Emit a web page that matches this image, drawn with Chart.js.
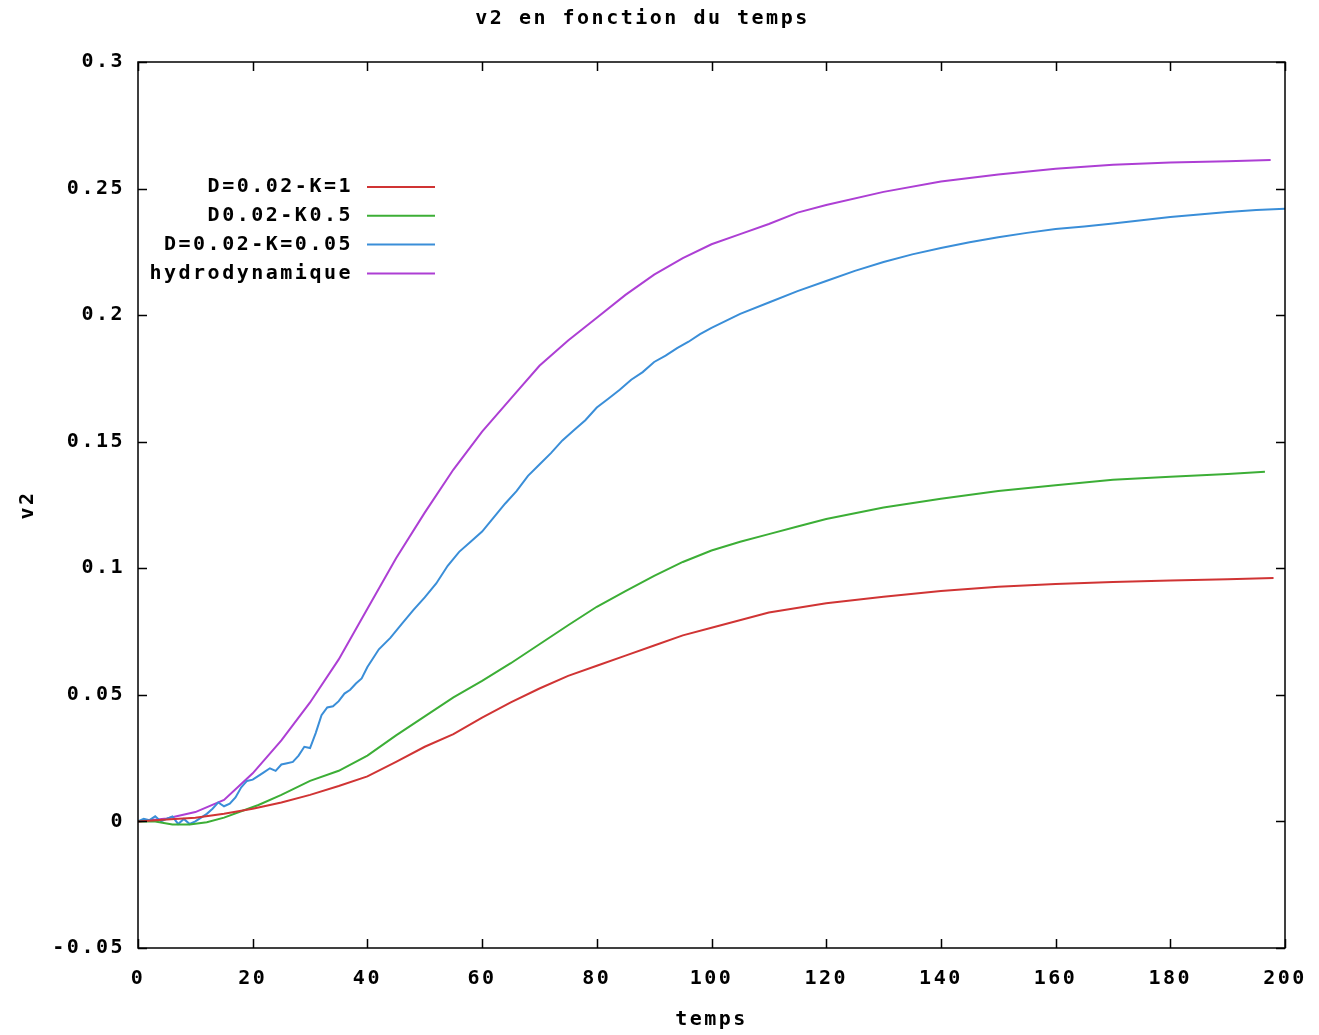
<!DOCTYPE html>
<html>
<head>
<meta charset="utf-8">
<script src="https://cdn.jsdelivr.net/npm/chart.js@4.4.1/dist/chart.umd.min.js"></script>
<style>
  html, body { margin: 0; padding: 0; background: #fff; }
  #wrap { width: 1319px; height: 1035px; }
</style>
</head>
<body>
<div id="wrap"><canvas id="graphe"></canvas></div>
<script>
// valeurs
var labels = ['D=0.02-K=1', 'D0.02-K0.5', 'D=0.02-K=0.05', 'hydrodynamique'];
var couleurs = ['#d03434', '#3cae36', '#3a8ed8', '#ad3fd4'];

var tK1 = [0,5,10,15,20,25,30,35,40,45,50,55,60,65,70,75,80,85,90,95,100,110,120,130,140,150,160,170,180,190,198];
var vK1 = [0,0.0008,0.0015,0.003,0.005,0.0075,0.0105,0.014,0.0178,0.0235,0.0295,0.0345,0.041,0.047,0.0525,0.0575,0.0615,0.0655,0.0695,0.0735,0.0765,0.0825,0.0862,0.0888,0.091,0.0927,0.0938,0.0946,0.0952,0.0957,0.0962];

var tK05 = [0,3,6,9,12,15,18,21,25,30,35,40,45,50,55,60,65,70,75,80,85,90,95,100,105,110,115,120,130,140,150,160,170,180,190,196.5];
var vK05 = [0,0,-0.0012,-0.0012,-0.0003,0.0015,0.004,0.0065,0.0105,0.016,0.020,0.026,0.034,0.0415,0.049,0.0555,0.0625,0.07,0.0775,0.0848,0.091,0.097,0.1025,0.107,0.1105,0.1135,0.1165,0.1195,0.124,0.1275,0.1305,0.1328,0.135,0.1362,0.1372,0.1381];

var tK005 = [0,1,2,3,4,5,6,7,8,9,10,11,12,13,14,15,16,17,18,19,20,21,22,23,24,25,26,27,28,29,30,31,32,33,34,35,36,37,38,39,40,42,44,46,48,50,52,54,56,58,60,62,64,66,68,70,72,74,76,78,80,82,84,86,88,90,92,94,96,98,100,105,110,115,120,125,130,135,140,145,150,155,160,165,170,175,180,185,190,195,200];
var vK005 = [0,0.001,0.0005,0.002,0,0.001,0.002,-0.001,0.001,-0.001,0,0.0015,0.003,0.005,0.0075,0.006,0.007,0.0095,0.0135,0.016,0.0165,0.018,0.0195,0.021,0.020,0.0225,0.023,0.0235,0.026,0.0295,0.029,0.035,0.042,0.045,0.0455,0.0475,0.0505,0.052,0.0545,0.0565,0.061,0.068,0.0725,0.078,0.0835,0.0885,0.094,0.101,0.1065,0.1105,0.1145,0.12,0.1255,0.1305,0.1365,0.141,0.1455,0.1505,0.1545,0.1585,0.1635,0.167,0.1705,0.1745,0.1775,0.1815,0.184,0.187,0.1895,0.1925,0.195,0.2005,0.205,0.2095,0.2135,0.2175,0.221,0.224,0.2265,0.2288,0.2308,0.2325,0.234,0.235,0.2362,0.2375,0.2388,0.2398,0.2407,0.2415,0.242];

var tHydro = [0,5,10,15,20,25,30,35,40,45,50,55,60,65,70,75,80,85,90,95,100,105,110,115,120,130,140,150,160,170,180,190,197.5];
var vHydro = [0,0.0012,0.0037,0.0085,0.019,0.032,0.047,0.064,0.084,0.104,0.122,0.139,0.154,0.167,0.180,0.190,0.199,0.208,0.216,0.2225,0.228,0.232,0.236,0.2405,0.2435,0.2487,0.2528,0.2556,0.2578,0.2594,0.2603,0.2608,0.2613];

var xTicks = [0,20,40,60,80,100,120,140,160,180,200];
var yTicks = [-0.05,0,0.05,0.1,0.15,0.2,0.25,0.3];

function points(t, v) {
    return t.map(function(x, i){ return {x: x, y: v[i]}; });
}

var series = [points(tK1, vK1), points(tK05, vK05), points(tK005, vK005), points(tHydro, vHydro)];

var FAMILLE = '"DejaVu Sans Mono", "Liberation Mono", monospace';
var POLICE = 'bold 20px ' + FAMILLE;
var ESPACE = '2.5px';
var fonte = { family: FAMILLE, size: 20, weight: 'bold' };

var cadreGnuplot = {
    id: 'cadreGnuplot',
    beforeLayout: function(chart){ chart.ctx.letterSpacing = ESPACE; },
    beforeDraw: function(chart){ chart.ctx.letterSpacing = ESPACE; },
    afterDraw: function(chart){
        var ctx = chart.ctx, a = chart.chartArea;
        var sx = chart.scales.x, sy = chart.scales.y;
        ctx.save();
        ctx.strokeStyle = '#000';
        ctx.lineWidth = 1.5;
        ctx.strokeRect(a.left, a.top, a.right - a.left, a.bottom - a.top);
        // ticks vers l'interieur, sur les quatre cotes
        ctx.beginPath();
        xTicks.forEach(function(v){
            var p = Math.round(sx.getPixelForValue(v)) + 0.5;
            ctx.moveTo(p, a.bottom); ctx.lineTo(p, a.bottom - 9);
            ctx.moveTo(p, a.top); ctx.lineTo(p, a.top + 9);
        });
        yTicks.forEach(function(v){
            var p = Math.round(sy.getPixelForValue(v)) + 0.5;
            ctx.moveTo(a.left, p); ctx.lineTo(a.left + 9, p);
            ctx.moveTo(a.right, p); ctx.lineTo(a.right - 9, p);
        });
        ctx.stroke();
        // legende facon gnuplot
        ctx.font = POLICE;
        ctx.fillStyle = '#000';
        ctx.textAlign = 'right';
        ctx.textBaseline = 'middle';
        chart.data.datasets.forEach(function(ds, i){
            var y = 187 + i * 28.8;
            ctx.fillText(ds.label, 353, y);
            ctx.strokeStyle = ds.borderColor;
            ctx.lineWidth = 2;
            ctx.beginPath();
            ctx.moveTo(367, y); ctx.lineTo(435, y);
            ctx.stroke();
        });
        ctx.restore();
    }
};

var grafica = document.getElementById('graphe');
var graphe = new Chart(grafica, {
    type: 'line',
    data: {
        datasets: series.map(function(d, i){
            return {
                label: labels[i],
                data: d,
                borderColor: couleurs[i],
                backgroundColor: couleurs[i],
                borderWidth: 2,
                pointRadius: 0,
                tension: 0,
                fill: false
            };
        })
    },
    options: {
        responsive: true,
        maintainAspectRatio: false,
        animation: false,
        layout: { padding: { top: 0, right: 34, left: 0, bottom: 0 } },
        plugins: {
            legend: { display: false },
            tooltip: { enabled: false },
            title: {
                display: true,
                text: 'v2 en fonction du temps',
                color: '#000',
                font: fonte,
                padding: { top: 7, bottom: 31 }
            }
        },
        scales: {
            x: {
                type: 'linear',
                min: 0,
                max: 200,
                afterBuildTicks: function(s){ s.ticks = xTicks.map(function(v){ return {value: v}; }); },
                afterFit: function(s){ s.height = 87; s.paddingLeft = 0; s.paddingRight = 0; },
                grid: { display: false, drawTicks: false },
                border: { display: false },
                ticks: { color: '#000', padding: 19, maxRotation: 0, font: fonte },
                title: {
                    display: true,
                    text: 'temps',
                    color: '#000',
                    padding: { top: 0, bottom: 3 },
                    font: fonte
                }
            },
            y: {
                min: -0.05,
                max: 0.3,
                afterBuildTicks: function(s){ s.ticks = yTicks.map(function(v){ return {value: v}; }); },
                afterFit: function(s){ s.width = 138; s.paddingTop = 0; s.paddingBottom = 0; },
                grid: { display: false, drawTicks: false },
                border: { display: false },
                ticks: {
                    color: '#000',
                    padding: 13,
                    callback: function(v){ return String(Number(v.toFixed(2))); },
                    font: fonte
                },
                title: {
                    display: true,
                    text: 'v2',
                    color: '#000',
                    padding: { top: 16, bottom: 0 },
                    font: fonte
                }
            }
        }
    },
    plugins: [cadreGnuplot]
});
</script>
</body>
</html>
